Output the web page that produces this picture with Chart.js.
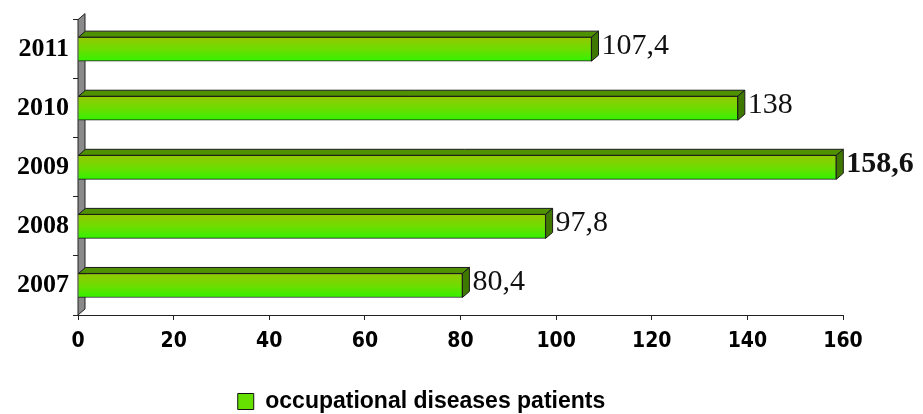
<!DOCTYPE html>
<html>
<head>
<meta charset="utf-8">
<script src="https://cdn.jsdelivr.net/npm/chart.js@4/dist/chart.umd.min.js"></script>
<style>
  html, body { margin: 0; padding: 0; background: #fff; }
  #wrap { width: 923px; height: 414px; }
</style>
</head>
<body>
<div id="wrap"><canvas id="chart" width="923" height="414"></canvas></div>
<script>
// Chart data
const years = ['2007', '2008', '2009', '2010', '2011'];
const patients = [80.4, 97.8, 158.6, 138, 107.4];
const seriesName = 'occupational diseases patients';

const DEPTH_X = 7;
const DEPTH_Y = 6;

// gray side wall behind the bars
const wallPlugin = {
    id: 'wall',
    beforeDatasetsDraw(chart) {
        const { ctx, chartArea } = chart;
        const l = chartArea.left, t = chartArea.top, b = chartArea.bottom;
        ctx.save();
        ctx.beginPath();
        ctx.moveTo(l, b);
        ctx.lineTo(l, t);
        ctx.lineTo(l + DEPTH_X, t - DEPTH_Y);
        ctx.lineTo(l + DEPTH_X, b - DEPTH_Y);
        ctx.closePath();
        ctx.fillStyle = '#8a8a8a';
        ctx.fill();
        ctx.strokeStyle = '#222';
        ctx.lineWidth = 1;
        ctx.stroke();
        ctx.restore();
    }
};

// top and end faces of each bar, plus the value labels
const bar3dPlugin = {
    id: 'bar3d',
    afterDatasetsDraw(chart) {
        const { ctx } = chart;
        const meta = chart.getDatasetMeta(0);
        meta.data.forEach((bar, i) => {
            const top = bar.y - bar.height / 2;
            const bottom = bar.y + bar.height / 2;
            ctx.save();
            ctx.strokeStyle = '#1a1a1a';
            ctx.lineWidth = 1;
            // top face
            ctx.beginPath();
            ctx.moveTo(bar.base, top);
            ctx.lineTo(bar.x, top);
            ctx.lineTo(bar.x + DEPTH_X, top - DEPTH_Y);
            ctx.lineTo(bar.base + DEPTH_X, top - DEPTH_Y);
            ctx.closePath();
            ctx.fillStyle = '#4f9100';
            ctx.fill();
            ctx.stroke();
            // end face
            ctx.beginPath();
            ctx.moveTo(bar.x, top);
            ctx.lineTo(bar.x + DEPTH_X, top - DEPTH_Y);
            ctx.lineTo(bar.x + DEPTH_X, bottom - DEPTH_Y);
            ctx.lineTo(bar.x, bottom);
            ctx.closePath();
            ctx.fillStyle = '#3f7800';
            ctx.fill();
            ctx.stroke();
            // value label
            const v = patients[i];
            ctx.fillStyle = '#111';
            ctx.font = (v === Math.max(...patients) ? 'bold ' : '') + '30px "Liberation Serif"';
            ctx.textBaseline = 'middle';
            ctx.textAlign = 'left';
            ctx.fillText(String(v).replace('.', ','), bar.x + DEPTH_X + 3, bar.y - 3);
            ctx.restore();
        });
    }
};

function barGradient(context) {
    const chart = context.chart;
    const yScale = chart.scales.y;
    if (!yScale) return '#66dd00';
    const c = yScale.getPixelForValue(context.dataIndex);
    const g = chart.ctx.createLinearGradient(0, c - 12, 0, c + 12);
    g.addColorStop(0, '#93c800');
    g.addColorStop(0.5, '#6fdc00');
    g.addColorStop(1, '#33f200');
    return g;
}

document.addEventListener('DOMContentLoaded', () => {
    const ctx = document.getElementById('chart').getContext('2d');
    new Chart(ctx, {
        type: 'bar',
        data: {
            labels: years,
            datasets: [{
                label: seriesName,
                data: patients,
                backgroundColor: barGradient,
                borderColor: '#1a1a1a',
                borderWidth: 1,
                barThickness: 24
            }]
        },
        options: {
            indexAxis: 'y',
            responsive: false,
            animation: false,
            devicePixelRatio: 1,
            layout: { padding: { top: 14, right: 80, left: 0, bottom: -9 } },
            scales: {
                x: {
                    min: 0,
                    max: 160,
                    ticks: {
                        stepSize: 20,
                        color: '#000',
                        padding: 9,
                        font: { family: '"DejaVu Sans Condensed", "DejaVu Sans"', size: 21, weight: 'bold' }
                    },
                    grid: { drawOnChartArea: false, tickLength: 5, color: '#222' },
                    border: { color: '#222', width: 1 },
                    afterFit(scale) { scale.height = 72; }
                },
                y: {
                    reverse: true,
                    ticks: {
                        color: '#000',
                        padding: 4,
                        font: { family: '"Liberation Serif"', size: 26, weight: 'bold' }
                    },
                    grid: { drawOnChartArea: false, tickLength: 5, color: '#222' },
                    border: { color: '#222', width: 1 },
                    afterFit(scale) { scale.width = 78; }
                }
            },
            plugins: {
                legend: {
                    position: 'bottom',
                    labels: {
                        color: '#000',
                        boxWidth: 16,
                        boxHeight: 16,
                        padding: 3,
                        font: { family: '"Liberation Sans"', size: 23, weight: 'bold' },
                        generateLabels() {
                            return [{
                                text: seriesName,
                                fillStyle: '#66e000',
                                strokeStyle: '#111',
                                lineWidth: 1,
                                datasetIndex: 0
                            }];
                        }
                    }
                },
                tooltip: { enabled: false }
            }
        },
        plugins: [wallPlugin, bar3dPlugin]
    });
});
</script>
</body>
</html>
